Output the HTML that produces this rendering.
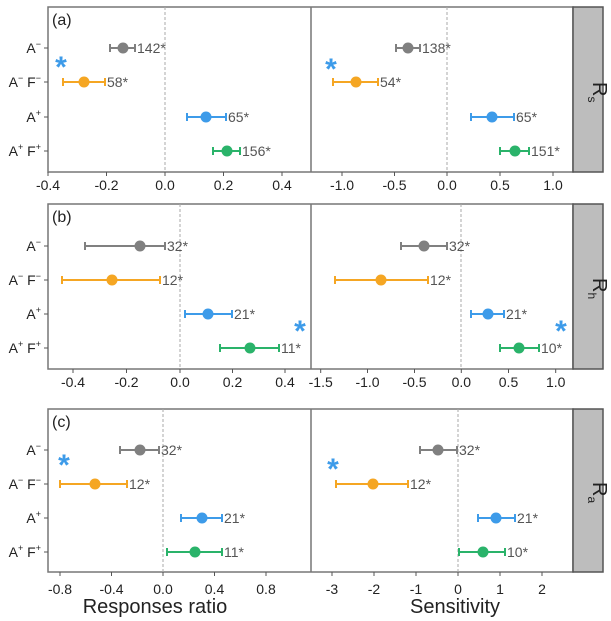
<!DOCTYPE html>
<html><head><meta charset="utf-8"><style>body{margin:0;background:#fff}svg{display:block;font-family:"Liberation Sans",Arial,sans-serif}</style></head><body>
<svg width="611" height="621" viewBox="0 0 611 621" xmlns="http://www.w3.org/2000/svg">
<defs>
<g id="lbls" font-size="14" fill="#222" text-anchor="end">
</g>
</defs>
<g fill="none" stroke="#777" stroke-width="1.5">
<rect x="48" y="7" width="525" height="165"/><rect x="48" y="204" width="525" height="165"/><rect x="48" y="409" width="525" height="163"/>
<line x1="311" y1="7" x2="311" y2="172"/><line x1="311" y1="204" x2="311" y2="369"/><line x1="311" y1="409" x2="311" y2="572"/>
</g>
<g fill="#bdbdbd" stroke="#555" stroke-width="1.5">
<rect x="573" y="7" width="30" height="165"/><rect x="573" y="204" width="30" height="165"/><rect x="573" y="409" width="30" height="163"/>
</g>
<g stroke="#aaa" stroke-dasharray="3,2" stroke-width="1">
<line x1="165" y1="7" x2="165" y2="172"/><line x1="447" y1="7" x2="447" y2="172"/>
<line x1="180" y1="204" x2="180" y2="369"/><line x1="461" y1="204" x2="461" y2="369"/>
<line x1="163" y1="409" x2="163" y2="572"/><line x1="458" y1="409" x2="458" y2="572"/>
</g>
<g font-size="20" fill="#222">
<text x="593" y="82" transform="rotate(90 593 82)">R<tspan font-size="12" dy="5">s</tspan></text>
<text x="593" y="278" transform="rotate(90 593 278)">R<tspan font-size="12" dy="5">h</tspan></text>
<text x="593" y="482" transform="rotate(90 593 482)">R<tspan font-size="12" dy="5">a</tspan></text>
</g>
<g font-size="16" fill="#222"><text x="52" y="25">(a)</text><text x="52" y="222">(b)</text><text x="52" y="427">(c)</text></g>
<!-- row labels -->
<g font-size="14" fill="#222" text-anchor="end">
<text x="41" y="53">A<tspan font-size="9" dy="-6">−</tspan></text>
<text x="41" y="87">A<tspan font-size="9" dy="-6">−</tspan><tspan dy="6"> F</tspan><tspan font-size="9" dy="-6">−</tspan></text>
<text x="41" y="122">A<tspan font-size="9" dy="-6">+</tspan></text>
<text x="41" y="156">A<tspan font-size="9" dy="-6">+</tspan><tspan dy="6"> F</tspan><tspan font-size="9" dy="-6">+</tspan></text>
<text x="41" y="251">A<tspan font-size="9" dy="-6">−</tspan></text>
<text x="41" y="285">A<tspan font-size="9" dy="-6">−</tspan><tspan dy="6"> F</tspan><tspan font-size="9" dy="-6">−</tspan></text>
<text x="41" y="319">A<tspan font-size="9" dy="-6">+</tspan></text>
<text x="41" y="353">A<tspan font-size="9" dy="-6">+</tspan><tspan dy="6"> F</tspan><tspan font-size="9" dy="-6">+</tspan></text>
<text x="41" y="455">A<tspan font-size="9" dy="-6">−</tspan></text>
<text x="41" y="489">A<tspan font-size="9" dy="-6">−</tspan><tspan dy="6"> F</tspan><tspan font-size="9" dy="-6">−</tspan></text>
<text x="41" y="523">A<tspan font-size="9" dy="-6">+</tspan></text>
<text x="41" y="557">A<tspan font-size="9" dy="-6">+</tspan><tspan dy="6"> F</tspan><tspan font-size="9" dy="-6">+</tspan></text>
</g>
<g stroke="#555" stroke-width="1">
<path d="M44 48H48M44 82H48M44 117H48M44 151H48M44 246H48M44 280H48M44 314H48M44 348H48M44 450H48M44 484H48M44 518H48M44 552H48"/>
<path d="M48 172V176M106.5 172V176M165 172V176M223.5 172V176M282 172V176M342 172V176M394.5 172V176M447 172V176M500 172V176M553 172V176"/>
<path d="M73 369V373M126.5 369V373M180 369V373M232.5 369V373M285 369V373M320.7 369V373M367.5 369V373M414.5 369V373M461.3 369V373M508.5 369V373M555.7 369V373"/>
<path d="M60 572V576M111.5 572V576M163 572V576M214.5 572V576M266 572V576M332 572V576M374 572V576M416 572V576M458 572V576M500 572V576M542 572V576"/>
</g>
<g font-size="14" fill="#222" text-anchor="middle">
<text x="48" y="190">-0.4</text><text x="106.5" y="190">-0.2</text><text x="165" y="190">0.0</text><text x="223.5" y="190">0.2</text><text x="282" y="190">0.4</text>
<text x="342" y="190">-1.0</text><text x="394.5" y="190">-0.5</text><text x="447" y="190">0.0</text><text x="500" y="190">0.5</text><text x="553" y="190">1.0</text>
<text x="73" y="387">-0.4</text><text x="126.5" y="387">-0.2</text><text x="180" y="387">0.0</text><text x="232.5" y="387">0.2</text><text x="285" y="387">0.4</text>
<text x="320.7" y="387">-1.5</text><text x="367.5" y="387">-1.0</text><text x="414.5" y="387">-0.5</text><text x="461.3" y="387">0.0</text><text x="508.5" y="387">0.5</text><text x="555.7" y="387">1.0</text>
<text x="60" y="594">-0.8</text><text x="111.5" y="594">-0.4</text><text x="163" y="594">0.0</text><text x="214.5" y="594">0.4</text><text x="266" y="594">0.8</text>
<text x="332" y="594">-3</text><text x="374" y="594">-2</text><text x="416" y="594">-1</text><text x="458" y="594">0</text><text x="500" y="594">1</text><text x="542" y="594">2</text>
</g>
<g font-size="20" fill="#222" text-anchor="middle"><text x="155" y="613">Responses ratio</text><text x="455" y="613">Sensitivity</text></g>
<!-- stars -->
<g font-size="30" fill="#3d9be9" text-anchor="middle" font-weight="bold">
<text x="61" y="77">*</text><text x="331" y="79">*</text>
<text x="300" y="341">*</text><text x="561" y="341">*</text>
<text x="64" y="475">*</text><text x="333" y="479">*</text>
</g>
<!-- series -->
<g stroke-width="2">
<g stroke="#808080" fill="#808080">
<path d="M110 48H135M110 44V52M135 44V52M396 48H420M396 44V52M420 44V52M85 246H165M85 242V250M165 242V250M401 246H447M401 242V250M447 242V250M120 450H159M120 446V454M159 446V454M420 450H457M420 446V454M457 446V454"/>
<circle cx="123" cy="48" r="5.5" stroke="none"/><circle cx="408" cy="48" r="5.5" stroke="none"/><circle cx="140" cy="246" r="5.5" stroke="none"/><circle cx="424" cy="246" r="5.5" stroke="none"/><circle cx="140" cy="450" r="5.5" stroke="none"/><circle cx="438" cy="450" r="5.5" stroke="none"/>
</g>
<g stroke="#f5a623" fill="#f5a623">
<path d="M63 82H105M63 78V86M105 78V86M333 82H378M333 78V86M378 78V86M62 280H160M62 276V284M160 276V284M335 280H428M335 276V284M428 276V284M60 484H127M60 480V488M127 480V488M336 484H408M336 480V488M408 480V488"/>
<circle cx="84" cy="82" r="5.5" stroke="none"/><circle cx="356" cy="82" r="5.5" stroke="none"/><circle cx="112" cy="280" r="5.5" stroke="none"/><circle cx="381" cy="280" r="5.5" stroke="none"/><circle cx="95" cy="484" r="5.5" stroke="none"/><circle cx="373" cy="484" r="5.5" stroke="none"/>
</g>
<g stroke="#3d9be9" fill="#3d9be9">
<path d="M187 117H226M187 113V121M226 113V121M471 117H514M471 113V121M514 113V121M185 314H232M185 310V318M232 310V318M471 314H504M471 310V318M504 310V318M181 518H222M181 514V522M222 514V522M478 518H515M478 514V522M515 514V522"/>
<circle cx="206" cy="117" r="5.5" stroke="none"/><circle cx="492" cy="117" r="5.5" stroke="none"/><circle cx="208" cy="314" r="5.5" stroke="none"/><circle cx="488" cy="314" r="5.5" stroke="none"/><circle cx="202" cy="518" r="5.5" stroke="none"/><circle cx="496" cy="518" r="5.5" stroke="none"/>
</g>
<g stroke="#2ab36a" fill="#2ab36a">
<path d="M213 151H240M213 147V155M240 147V155M500 151H529M500 147V155M529 147V155M220 348H279M220 344V352M279 344V352M500 348H539M500 344V352M539 344V352M167 552H222M167 548V556M222 548V556M459 552H505M459 548V556M505 548V556"/>
<circle cx="227" cy="151" r="5.5" stroke="none"/><circle cx="515" cy="151" r="5.5" stroke="none"/><circle cx="250" cy="348" r="5.5" stroke="none"/><circle cx="519" cy="348" r="5.5" stroke="none"/><circle cx="195" cy="552" r="5.5" stroke="none"/><circle cx="483" cy="552" r="5.5" stroke="none"/>
</g>
</g>
<g font-size="14" fill="#555">
<text x="137" y="53">142*</text><text x="422" y="53">138*</text>
<text x="107" y="87">58*</text><text x="380" y="87">54*</text>
<text x="228" y="122">65*</text><text x="516" y="122">65*</text>
<text x="242" y="156">156*</text><text x="531" y="156">151*</text>
<text x="167" y="251">32*</text><text x="449" y="251">32*</text>
<text x="162" y="285">12*</text><text x="430" y="285">12*</text>
<text x="234" y="319">21*</text><text x="506" y="319">21*</text>
<text x="281" y="353">11*</text><text x="541" y="353">10*</text>
<text x="161" y="455">32*</text><text x="459" y="455">32*</text>
<text x="129" y="489">12*</text><text x="410" y="489">12*</text>
<text x="224" y="523">21*</text><text x="517" y="523">21*</text>
<text x="224" y="557">11*</text><text x="507" y="557">10*</text>
</g>
</svg>
</body></html>
